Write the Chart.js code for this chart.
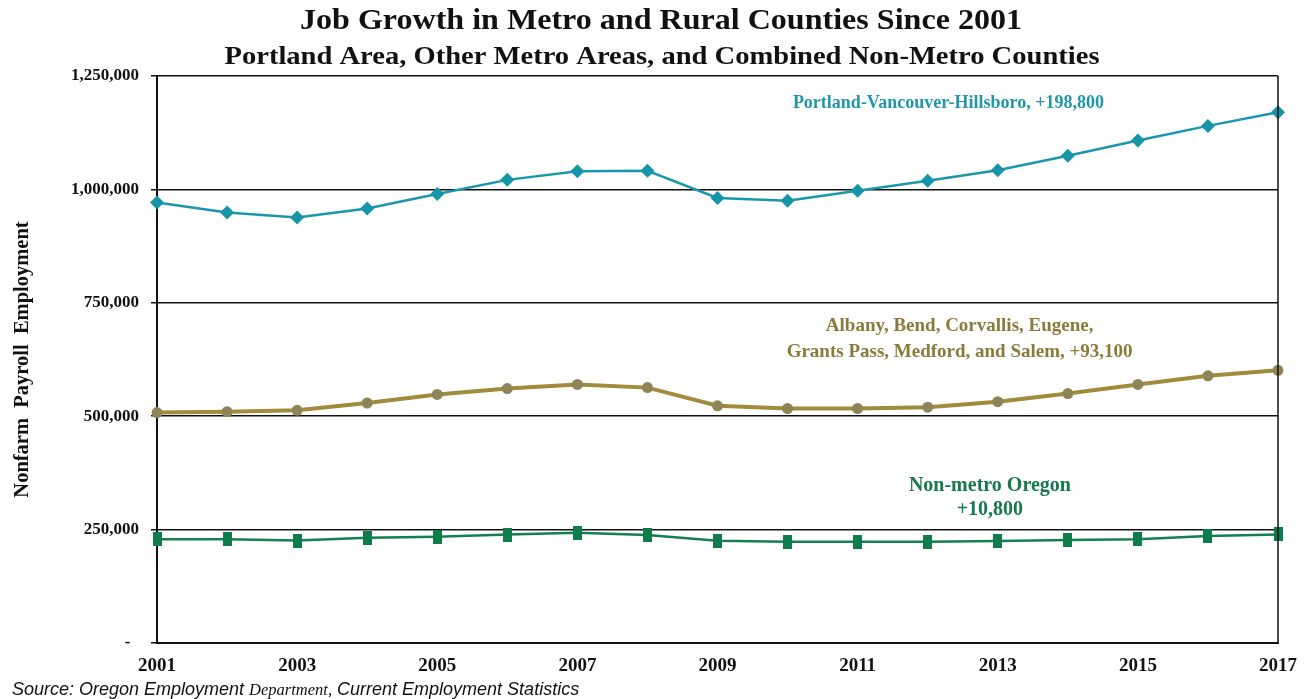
<!DOCTYPE html>
<html>
<head>
<meta charset="utf-8">
<script src="https://cdn.jsdelivr.net/npm/chart.js@4.4.1/dist/chart.umd.min.js"></script>
<style>
  html, body { margin: 0; padding: 0; background: #fff; }
  #wrap { width: 1315px; height: 699px; position: relative; }
</style>
</head>
<body>
<div id="wrap"><canvas id="jobChart"></canvas></div>
<script>
'use strict';

// data
const years = ['2001', '2002', '2003', '2004', '2005', '2006', '2007', '2008', '2009',
  '2010', '2011', '2012', '2013', '2014', '2015', '2016', '2017'];

const portlandJobs = [971200, 949000, 938000, 958000, 990000, 1021000, 1040000, 1041000, 981000,
  975000, 997000, 1019000, 1042000, 1074000, 1108000, 1140000, 1170000];

const otherMetroJobs = [508000, 510000, 513000, 529000, 548000, 561000, 570000, 563000, 523000,
  517000, 517000, 520000, 532000, 550000, 570000, 589000, 601100];

const nonMetroJobs = [228500, 228700, 225800, 232000, 234000, 239000, 243000, 238000, 225600,
  223000, 223000, 223000, 225000, 227000, 229000, 236000, 239300];

const yTicks = [0, 250000, 500000, 750000, 1000000, 1250000];

const serif = '"Liberation Serif", "Times New Roman", serif';
const sans = '"Liberation Sans", Arial, sans-serif';

const tealColor = '#1b97ad';
const oliveColor = '#a08c3a';
const greenColor = '#12804f';

// tall green square marker
function makeBlock(w, h, color) {
  let c = document.createElement('canvas');
  c.width = w;
  c.height = h;
  let g = c.getContext('2d');
  g.fillStyle = color;
  g.fillRect(0, 0, w, h);
  return c;
}
const greenBlock = makeBlock(9, 14, '#0f7c4c');

function fmt(n) {
  return n.toLocaleString('en-US');
}

// series labels placed inside the plot, anchored on the scales
const seriesNotes = [
  { lines: ['Portland-Vancouver-Hillsboro, +' + fmt(portlandJobs[16] - portlandJobs[0])],
    at: 0.706, values: [1190000], color: '#2198a9', size: 18 },
  { lines: ['Albany, Bend, Corvallis, Eugene,',
            'Grants Pass, Medford, and Salem, +' + fmt(otherMetroJobs[16] - otherMetroJobs[0])],
    at: 0.716, values: [699000, 642000], color: '#8a7b3a', size: 19 },
  { lines: ['Non-metro Oregon', '+' + fmt(nonMetroJobs[16] - nonMetroJobs[0])],
    at: 0.743, values: [346000, 293000], color: '#17794f', size: 20 }
];

// draw centred text squeezed or stretched to a given width
function fitText(ctx, text, cx, cy, width) {
  let w = ctx.measureText(text).width;
  ctx.save();
  ctx.translate(cx, cy);
  ctx.scale(width / w, 1);
  ctx.fillText(text, 0, 0);
  ctx.restore();
}

const textPlugin = {
  id: 'textPlugin',
  afterDraw(chart) {
    const ctx = chart.ctx;
    const area = chart.chartArea;
    const x = chart.scales.x;
    const y = chart.scales.y;
    ctx.save();

    // right frame line
    ctx.strokeStyle = '#111';
    ctx.lineWidth = 1.5;
    ctx.beginPath();
    ctx.moveTo(area.right, area.top);
    ctx.lineTo(area.right, area.bottom);
    ctx.stroke();

    // titles
    ctx.fillStyle = '#111';
    ctx.textAlign = 'center';
    ctx.textBaseline = 'middle';
    ctx.font = 'bold 30px ' + serif;
    fitText(ctx, 'Job Growth in Metro and Rural Counties Since 2001', 661, 21, 722);
    ctx.font = 'bold 26px ' + serif;
    fitText(ctx, 'Portland Area, Other Metro Areas, and Combined Non-Metro Counties', 662, 57, 875);

    // series labels
    seriesNotes.forEach(function (note) {
      ctx.fillStyle = note.color;
      ctx.font = 'bold ' + note.size + 'px ' + serif;
      let px = x.getPixelForDecimal(note.at);
      note.lines.forEach(function (line, i) {
        ctx.fillText(line, px, y.getPixelForValue(note.values[i]));
      });
    });

    // source line
    ctx.fillStyle = '#111';
    ctx.textAlign = 'left';
    ctx.textBaseline = 'alphabetic';
    let sx = 12;
    const parts = [
      ['Source: Oregon Employment ', 'italic 18px ' + sans],
      ['Department,', 'italic 16.5px ' + serif],
      [' Current Employment Statistics', 'italic 18px ' + sans]
    ];
    parts.forEach(function (p) {
      ctx.font = p[1];
      ctx.fillText(p[0], sx, 695);
      sx += ctx.measureText(p[0]).width;
    });
    ctx.restore();
  }
};

const config = {
  type: 'line',
  data: {
    labels: years,
    datasets: [{
      label: 'Portland-Vancouver-Hillsboro',
      data: portlandJobs,
      borderColor: tealColor,
      backgroundColor: '#1595a7',
      borderWidth: 2.5,
      pointStyle: 'rectRot',
      pointRadius: 7,
      pointBorderWidth: 0,
      tension: 0
    },
    {
      label: 'Other metro areas',
      data: otherMetroJobs,
      borderColor: oliveColor,
      backgroundColor: '#8d8458',
      borderWidth: 4,
      pointStyle: 'circle',
      pointRadius: 5.5,
      pointBorderWidth: 0,
      tension: 0
    },
    {
      label: 'Non-metro Oregon',
      data: nonMetroJobs,
      borderColor: greenColor,
      backgroundColor: '#0f7c4c',
      borderWidth: 2.5,
      pointStyle: greenBlock,
      pointRadius: 7,
      tension: 0
    }]
  },
  options: {
    responsive: false,
    animation: false,
    devicePixelRatio: 1,
    layout: { padding: { top: 76, right: 37, bottom: 0, left: 0 } },
    plugins: {
      legend: { display: false },
      tooltip: { enabled: false }
    },
    scales: {
      x: {
        offset: false,
        grid: { display: false, drawTicks: false },
        border: { display: true, color: '#111', width: 2 },
        afterFit(scale) { scale.height = 56; },
        ticks: {
          autoSkip: false,
          maxRotation: 0,
          padding: 12,
          color: '#111',
          font: { family: serif, size: 19, weight: 'bold' },
          callback: function (value, index) {
            return index % 2 === 0 ? years[index] : '';
          }
        }
      },
      y: {
        min: 0,
        max: 1250000,
        afterFit(scale) { scale.width = 157; },
        afterBuildTicks(scale) {
          scale.ticks = yTicks.map(function (v) { return { value: v }; });
        },
        grid: {
          color: '#111',
          lineWidth: 1.5,
          tickLength: 6,
          drawTicks: true
        },
        border: { display: true, color: '#111', width: 2 },
        title: {
          display: true,
          text: 'Nonfarm  Payroll  Employment',
          color: '#111',
          font: { family: serif, size: 20.5, weight: 'bold' },
          padding: { top: 10, bottom: 0 }
        },
        ticks: {
          padding: 12,
          color: '#111',
          font: { family: serif, size: 17, weight: 'bold' },
          callback: function (value) {
            return value === 0 ? '-  ' : fmt(value);
          }
        }
      }
    }
  },
  plugins: [textPlugin]
};

const canvas = document.getElementById('jobChart');
canvas.width = 1315;
canvas.height = 699;
new Chart(canvas, config);
</script>
</body>
</html>
